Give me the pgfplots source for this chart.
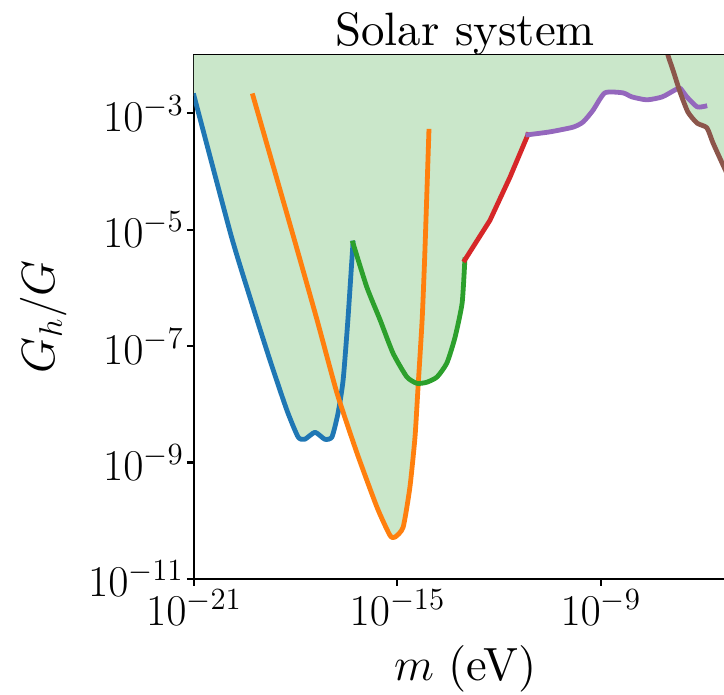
\RequirePackage{fix-cm}
\documentclass[border=0pt]{standalone}
\usepackage{fontspec}
\newfontfamily\lmten{lmroman10-regular.otf}
\usepackage{pgfplots}
\pgfplotsset{compat=1.18}
\definecolor{tabblue}{HTML}{1F77B4}
\definecolor{taborange}{HTML}{FF7F0E}
\definecolor{tabgreen}{HTML}{2CA02C}
\definecolor{tabred}{HTML}{D62728}
\definecolor{tabpurple}{HTML}{9467BD}
\definecolor{tabbrown}{HTML}{8C564B}
\definecolor{fillgreen}{RGB}{202,231,202}
\begin{document}
\begin{tikzpicture}
\useasboundingbox (-97pt,-58pt) rectangle (265pt,289.5pt);
\clip (-97pt,-58pt) rectangle (265pt,289.5pt);
\begin{axis}[
  at={(0pt,0pt)}, anchor=south west,
  scale only axis, width=271.2pt, height=262pt,
  xmode=log, ymode=log,
  xmin=1e-21, xmax=1e-5, ymin=1e-11, ymax=1e-2,
  xtick={1e-21,1e-15,1e-9}, ytick={1e-11,1e-9,1e-7,1e-5,1e-3},
  xminorticks=false, yminorticks=false,
  xtick pos=bottom, ytick pos=left, tick align=outside, major tick length=3.5pt,
  axis line style={line width=1.1pt},
  major tick style={line width=1.1pt, black},
  tick label style={font=\fontsize{22}{26}\selectfont, inner sep=1.5pt},
  title={\lmten Solar system},
  title style={font=\fontsize{23.4}{28}\selectfont, at={(axis description cs:0.5,1)}, anchor=base, yshift=-1pt},
  xlabel={$m$ {\lmten (eV)}},
  xlabel style={font=\fontsize{23.3}{28}\selectfont, at={(axis description cs:0.5,0)}, anchor=base, yshift=-50.5pt},
  ylabel={$G_h/G$},
  ylabel style={font=\fontsize{23.3}{28}\selectfont, at={(axis description cs:-0.2563,0.5)}, anchor=base},
  every axis plot/.append style={line width=2.4pt, line cap=rect, line join=round},
]
% shaded excluded region (above the lower envelope of all bounds)
\addplot[fill=fillgreen, draw=none, forget plot] coordinates {
 (1e-21,1e-2) (1e-21,1.995e-3) (1.230e-20,8.128e-6) (4.467e-20,6.918e-7)
 (1.738e-19,5.754e-8) (5.495e-19,7.943e-9) (1.175e-18,2.754e-9) (1.862e-18,2.512e-9)
 (3.715e-18,3.311e-9) (7.244e-18,2.512e-9) (1.175e-17,2.754e-9) (1.778e-17,7.079e-9)
 (1.995e-17,1.109e-8)
 (6.457e-17,1.445e-9) (2.512e-16,1.698e-10) (6.026e-16,5.623e-11) (8.511e-16,5.248e-11)
 (1.479e-15,7.762e-11) (2.344e-15,3.802e-10) (3.311e-15,2.754e-9) (4.121e-15,2.265e-8)
 (7.413e-15,2.399e-8) (1.479e-14,2.951e-8) (2.884e-14,5.129e-8) (5.012e-14,1.413e-7)
 (8.128e-14,5.495e-7) (9.772e-14,3.020e-6)
 (5.370e-13,1.445e-5) (2.089e-12,7.943e-5) (7.079e-12,4.266e-4)
 (3.162e-11,4.786e-4) (1.514e-10,5.754e-4) (3.020e-10,7.079e-4) (5.888e-10,1.122e-3)
 (1.318e-9,2.239e-3) (4.467e-9,2.239e-3) (8.318e-9,1.905e-3) (2.291e-8,1.698e-3)
 (6.457e-8,1.905e-3) (1.549e-7,2.512e-3) (2.065e-7,2.630e-3)
 (2.188e-7,2.291e-3) (3.715e-7,1.047e-3) (6.918e-7,6.761e-4) (1.349e-6,5.623e-4)
 (2.042e-6,3.090e-4) (4.266e-6,1.202e-4) (9.772e-6,4.266e-5) (1e-5,3.981e-5)
 (1e-5,1e-2)
};
% blue
\addplot[tabblue, smooth, tension=0.35] coordinates {
 (1e-21,1.995e-3) (1.230e-20,8.128e-6) (4.467e-20,6.918e-7) (1.738e-19,5.754e-8)
 (5.495e-19,7.943e-9) (1.175e-18,2.754e-9) (1.862e-18,2.512e-9) (3.715e-18,3.311e-9)
 (7.244e-18,2.512e-9) (1.175e-17,2.754e-9) (1.778e-17,7.079e-9) (2.512e-17,2.630e-8)
 (3.467e-17,2.818e-7) (4.898e-17,5.888e-6)
};
% orange
\addplot[taborange, smooth, tension=0.35] coordinates {
 (5.495e-20,1.995e-3) (8.318e-19,8.128e-6) (4.266e-18,2.818e-7) (1.660e-17,1.549e-8)
 (6.457e-17,1.445e-9) (2.512e-16,1.698e-10) (6.026e-16,5.623e-11) (8.511e-16,5.248e-11)
 (1.479e-15,7.762e-11) (2.344e-15,3.802e-10) (3.311e-15,2.754e-9) (4.074e-15,1.995e-8)
 (5.370e-15,2.818e-7) (6.457e-15,3.981e-6) (8.511e-15,4.898e-4)
};
% green
\addplot[tabgreen, smooth, tension=0.35] coordinates {
 (4.898e-17,5.888e-6) (1.259e-16,1.023e-6) (3.090e-16,2.818e-7) (7.413e-16,7.586e-8)
 (1.905e-15,2.951e-8) (3.802e-15,2.291e-8) (7.413e-15,2.399e-8) (1.479e-14,2.951e-8)
 (2.884e-14,5.129e-8) (5.012e-14,1.413e-7) (8.128e-14,5.495e-7) (9.772e-14,3.020e-6)
};
% red
\addplot[tabred] coordinates {
 (9.772e-14,3.020e-6) (5.370e-13,1.445e-5) (2.089e-12,7.943e-5) (7.079e-12,4.266e-4)
};
% purple
\addplot[tabpurple, smooth, tension=0.35] coordinates {
 (7.079e-12,4.266e-4) (3.162e-11,4.786e-4) (1.514e-10,5.754e-4) (3.020e-10,7.079e-4)
 (5.888e-10,1.122e-3) (1.318e-9,2.239e-3) (4.467e-9,2.239e-3) (8.318e-9,1.905e-3)
 (2.291e-8,1.698e-3) (6.457e-8,1.905e-3) (1.549e-7,2.512e-3) (2.188e-7,2.692e-3)
 (3.467e-7,1.905e-3) (6.918e-7,1.288e-3) (1.175e-6,1.318e-3)
};
% brown
\addplot[tabbrown, smooth, tension=0.35] coordinates {
 (7.762e-8,1.820e-2) (9.550e-8,1.000e-2) (1.349e-7,5.495e-3) (2.188e-7,2.291e-3)
 (3.715e-7,1.047e-3) (6.918e-7,6.761e-4) (1.349e-6,5.623e-4) (2.042e-6,3.090e-4)
 (4.266e-6,1.202e-4) (9.772e-6,4.266e-5) (1e-5,3.981e-5)
};
\end{axis}
\end{tikzpicture}
\end{document}
